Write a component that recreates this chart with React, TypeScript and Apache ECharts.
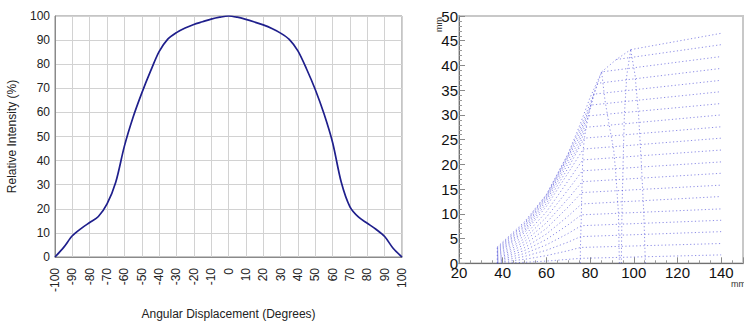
import React, { useEffect, useRef } from "react";
import * as echarts from "echarts";

// ---------- Left chart: radiation pattern ----------
const angles = [-100, -95, -90, -85, -80, -75, -70, -65, -60, -55, -50, -45, -40, -35, -30, -25, -20, -15, -10, -5, 0, 5, 10, 15, 20, 25, 30, 35, 40, 45, 50, 55, 60, 65, 70, 75, 80, 85, 90, 95, 100];
const intensity = [0, 4, 8.8, 11.8, 14.3, 16.8, 22, 31, 46, 58, 68, 77, 85.2, 90.4, 93.1, 95, 96.5, 97.6, 98.7, 99.5, 100, 99.5, 98.6, 97.5, 96.3, 94.8, 92.9, 90.3, 85.5, 78, 69.5, 59.5, 47.5, 31, 20.8, 16.5, 14, 11.5, 8.5, 3.5, 0];

// ---------- Right chart: mesh of dotted lines ----------
const meshLeftX = 37.5;
const meshRightX = 140;
const sampleX = [50, 60, 70, 75, 80];
const rowStartY = [0, 0.19, 0.39, 0.58, 0.78, 0.97, 1.16, 1.36, 1.55, 1.75, 1.94, 2.14, 2.33, 2.52, 2.72, 2.91, 3.11, 3.3];
const rowAt50 = [0.2, 0.8, 1.39, 1.98, 2.58, 3.17, 3.8, 4.4, 5.0, 5.6, 6.2, 6.55, 6.87, 7.3, 7.55, 7.92, 8.1, 8.4];
const rowAt60 = [0.45, 1.55, 2.64, 3.73, 4.83, 5.92, 7.06, 8.2, 9.3, 10.4, 11.5, 12.1, 12.66, 13.0, 13.27, 13.55, 13.8, 13.9];
const rowAt70 = [0.8, 2.55, 4.29, 6.04, 7.8, 9.55, 11.4, 13.1, 14.9, 16.7, 18.3, 19.3, 20.2, 20.9, 21.5, 21.7, 22.1, 22.2];
const rowAt75 = [null, null, null, null, null, null, null, null, null, null, null, null, 23.8, 24.6, 25.4, 26.2, 26.9, 27.6];
const rowAt80 = [null, null, null, null, null, null, null, null, null, null, null, null, null, null, null, 31.6, 32.3, 33.5];
const rowCrossA = [[75.5, 1.0], [75.6, 3.2], [75.7, 5.4], [75.9, 7.6], [76.0, 9.8], [76.1, 12.0], [76.2, 14.3], [76.4, 16.5], [76.5, 18.7], [76.6, 20.9], [76.9, 23.1], [77.4, 25.3], [78.2, 27.5], [79.3, 29.8], [80.5, 32.0], [81.8, 34.2], [83.5, 36.4], [85.3, 38.7]];
const rowTopStart = [[92.0, 41.2], [98.6, 43.2]];
const rowEndY = [1.7, 4.0, 6.4, 8.7, 11.0, 13.5, 15.8, 18.2, 20.5, 22.9, 25.3, 27.6, 30.0, 32.3, 34.7, 37.0, 39.4, 41.8, 44.2, 46.5];

const colLeft = [[37.5, 0], [37.5, 3.3]];
const colABottom = [75.5, 0];
const colB = [[93.4, 0], [93.0, 10], [91.8, 18], [90.8, 23], [88.6, 28.3], [86.8, 33], [85.3, 38.7]];
const colB2 = [[94.3, 0], [94.6, 10], [95.1, 20], [95.7, 30], [96.8, 38], [98.6, 43.2]];
const colC = [[105.3, 0], [104.6, 10], [103.5, 20], [102.2, 30], [100.6, 38], [98.6, 43.2]];
const topEdge = [[85.3, 38.7], [92.0, 41.2], [98.6, 43.2]];

const FONT = "'Liberation Sans', Arial, sans-serif";

function buildRows(): number[][][] {
  const rows: number[][][] = [];
  const extra = [rowAt50, rowAt60, rowAt70, rowAt75, rowAt80];
  for (let j = 0; j < rowEndY.length; j++) {
    const pts: number[][] = [];
    if (j < rowCrossA.length) {
      pts.push([meshLeftX, rowStartY[j]]);
      for (let k = 0; k < sampleX.length; k++) {
        const v = extra[k][j];
        if (v != null) pts.push([sampleX[k], v as number]);
      }
      pts.push(rowCrossA[j]);
    } else {
      pts.push(rowTopStart[j - rowCrossA.length]);
    }
    pts.push([meshRightX, rowEndY[j]]);
    rows.push(pts);
  }
  return rows;
}

export default function App() {
  const ref = useRef<HTMLDivElement>(null);
  useEffect(() => {
    if (!ref.current) return;
    const chart = echarts.init(ref.current, null, { renderer: "svg" });
    const meshStyle = { color: "rgba(50,50,210,0.55)", width: 1, type: [1.2, 2.4] as any };
    const meshLines: number[][][] = [
      ...buildRows(),
      colLeft,
      [colABottom, ...rowCrossA],
      colB,
      colB2,
      colC,
      topEdge,
    ];
    const meshSeries = meshLines.map((pts) => ({
      type: "line",
      xAxisIndex: 1,
      yAxisIndex: 1,
      data: pts,
      symbol: "none",
      silent: true,
      lineStyle: meshStyle,
    }));
    chart.setOption({
      animation: false,
      textStyle: { fontFamily: FONT },
      grid: [
        { left: 55, top: 16, width: 347, height: 252, show: true, borderColor: "#8a8a8a", borderWidth: 1 },
        { left: 459, top: 16, width: 286, height: 247.3, show: true, borderColor: "#c8c8c8", borderWidth: 2 },
      ],
      xAxis: [
        {
          gridIndex: 0,
          type: "value",
          min: -100,
          max: 100,
          interval: 10,
          axisLine: { onZero: false, lineStyle: { color: "#8a8a8a" } },
          axisTick: { show: false },
          axisLabel: { rotate: 90, margin: 11, fontSize: 12, color: "#222", fontFamily: FONT },
          splitLine: { show: true, lineStyle: { color: "#d2d2d2", width: 1 } },
          name: "Angular Displacement (Degrees)",
          nameLocation: "middle",
          nameGap: 51,
          nameTextStyle: { fontSize: 12, color: "#222", fontFamily: FONT },
        },
        {
          gridIndex: 1,
          type: "value",
          min: 20,
          max: 150,
          interval: 20,
          axisLine: { onZero: false, lineStyle: { color: "#707070" } },
          axisTick: { inside: true, length: 6, lineStyle: { color: "#8a8a8a" } },
          minorTick: { show: true, splitNumber: 4, length: 3, lineStyle: { color: "#999" } },
          axisLabel: {
            margin: 2,
            fontSize: 15,
            color: "#111",
            fontFamily: FONT,
            formatter: (v: number) => (v >= 150 ? "" : String(v)),
          },
          splitLine: { show: false },
        },
      ],
      yAxis: [
        {
          gridIndex: 0,
          type: "value",
          min: 0,
          max: 100,
          interval: 10,
          axisLine: { show: true, onZero: false, lineStyle: { color: "#8a8a8a" } },
          axisTick: { show: false },
          axisLabel: { margin: 5, fontSize: 12, color: "#222", fontFamily: FONT },
          splitLine: { show: true, lineStyle: { color: "#d2d2d2", width: 1 } },
          name: "Relative Intensity (%)",
          nameLocation: "middle",
          nameGap: 37,
          nameTextStyle: { fontSize: 12, color: "#222", fontFamily: FONT },
        },
        {
          gridIndex: 1,
          type: "value",
          min: 0,
          max: 50,
          interval: 5,
          axisLine: { show: true, onZero: false, lineStyle: { color: "#707070" } },
          axisTick: { inside: true, length: 6, lineStyle: { color: "#8a8a8a" } },
          minorTick: { show: true, splitNumber: 5, length: 3, lineStyle: { color: "#999" } },
          axisLabel: { margin: 1, fontSize: 15, color: "#111", fontFamily: FONT },
          splitLine: { show: false },
        },
      ],
      graphic: [
        {
          type: "text",
          x: 434,
          y: 32,
          rotation: Math.PI / 2,
          style: { text: "mm", fontSize: 9, fill: "#333", fontFamily: FONT },
        },
        {
          type: "text",
          x: 731,
          y: 279,
          style: { text: "mm", fontSize: 9, fill: "#333", fontFamily: FONT },
        },
      ],
      series: [
        {
          type: "line",
          xAxisIndex: 0,
          yAxisIndex: 0,
          data: angles.map((a, i) => [a, intensity[i]]),
          smooth: 0.3,
          symbol: "none",
          lineStyle: { color: "#1f1f8c", width: 1.7 },
        },
        ...meshSeries,
      ],
    });
    return () => chart.dispose();
  }, []);
  return (
    <div style={{ position: "fixed", left: 0, top: 0, width: 744, height: 325, overflow: "hidden", background: "#fff" }}>
      <div ref={ref} style={{ width: 746, height: 325 }} />
    </div>
  );
}
